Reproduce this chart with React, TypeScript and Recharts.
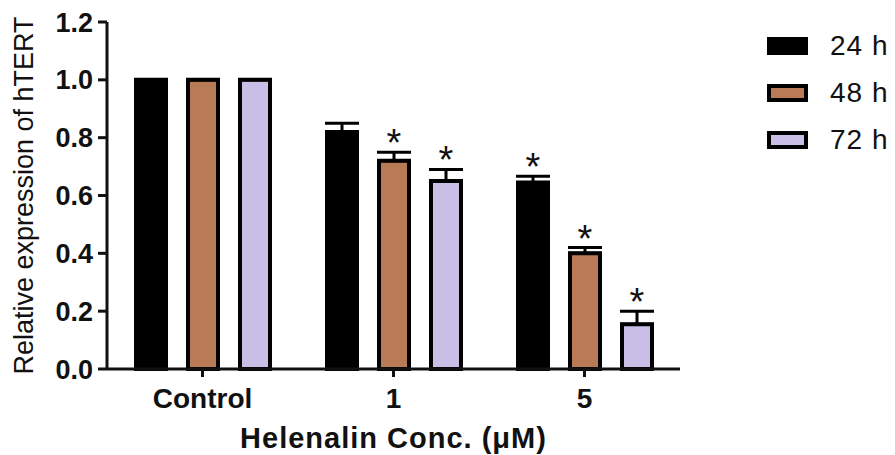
import { Bar, BarChart, ErrorBar, LabelList, XAxis, YAxis } from "recharts";

const categories = ["Control", "1", "5"];
const h24 = [1.0, 0.82, 0.645];
const h48 = [1.0, 0.72, 0.4];
const h72 = [1.0, 0.65, 0.155];
const err24 = [0, 0.03, 0.022];
const err48 = [0, 0.03, 0.02];
const err72 = [0, 0.04, 0.045];
const sig24 = [false, false, true];
const sig48 = [false, true, true];
const sig72 = [false, true, true];
const yTicks = [0, 0.2, 0.4, 0.6, 0.8, 1.0, 1.2];

const FONT = '"Liberation Sans", Arial, sans-serif';

const series = [
  { key: "h24", name: "24 h", fill: "#000000", err: err24, sig: sig24 },
  { key: "h48", name: "48 h", fill: "#B97A56", err: err48, sig: sig48 },
  { key: "h72", name: "72 h", fill: "#C8BEE6", err: err72, sig: sig72 },
];

const data = categories.map((c, i) => ({
  cat: c,
  h24: h24[i],
  h48: h48[i],
  h72: h72[i],
  e24: err24[i],
  e48: err48[i],
  e72: err72[i],
}));

// asterisk sits just above the error cap
function star(err: number[], sig: boolean[]) {
  return (props: any) => {
    const vb = props.viewBox ?? props;
    const x = vb.x ?? props.x;
    const y = vb.y ?? props.y;
    const w = vb.width ?? props.width;
    const h = vb.height ?? props.height;
    const i = props.index;
    const v = Number(props.value);
    if (!sig[i] || !v) return null;
    const capY = y - (err[i] * h) / v;
    return (
      <text
        x={x + w / 2}
        y={capY + 4}
        textAnchor="middle"
        fontFamily={FONT}
        fontSize={38}
        fill="#111"
      >
        *
      </text>
    );
  };
}

function YLabel(props: any) {
  const vb = props.viewBox;
  const cx = 33;
  const cy = vb.y + vb.height / 2;
  return (
    <text
      x={cx}
      y={cy}
      transform={`rotate(-90, ${cx}, ${cy})`}
      textAnchor="middle"
      fontFamily={FONT}
      fontSize={27}
      fill="#111"
    >
      Relative expression of hTERT
    </text>
  );
}

function XLabel(props: any) {
  const vb = props.viewBox;
  return (
    <text
      x={vb.x + vb.width / 2}
      y={448}
      textAnchor="middle"
      fontFamily={FONT}
      fontSize={29}
      fontWeight="bold"
      letterSpacing={1}
      fill="#111"
    >
      Helenalin Conc. (μM)
    </text>
  );
}

export default function App() {
  return (
    <div style={{ position: "absolute", left: 0, top: 0, width: 895, height: 455, background: "#fff" }}>
      <BarChart
        width={895}
        height={455}
        data={data}
        margin={{ top: 22, right: 215, bottom: 0, left: 0 }}
        barSize={30}
        barGap={22}
      >
        <XAxis
          dataKey="cat"
          height={86}
          axisLine={{ stroke: "#111", strokeWidth: 3 }}
          tickLine={{ stroke: "#111", strokeWidth: 3 }}
          tickSize={8}
          tickMargin={11}
          tick={{ fill: "#111", fontSize: 28, fontWeight: "bold", fontFamily: FONT }}
          label={<XLabel />}
        />
        <YAxis
          width={107}
          domain={[0, 1.2]}
          ticks={yTicks}
          interval={0}
          tickFormatter={(v: number) => v.toFixed(1)}
          axisLine={{ stroke: "#111", strokeWidth: 3 }}
          tickLine={{ stroke: "#111", strokeWidth: 3 }}
          tickSize={9}
          tickMargin={5}
          tick={{ fill: "#111", fontSize: 27, fontWeight: "bold", fontFamily: FONT }}
          label={<YLabel />}
        />
        {series.map((s) => (
          <Bar
            key={s.key}
            dataKey={s.key}
            fill={s.fill}
            stroke="#000"
            strokeWidth={4}
            isAnimationActive={false}
          >
            <ErrorBar
              dataKey={(d: any) => [0, d["e" + s.key.slice(1)]]}
              width={17}
              stroke="#000"
              strokeWidth={3}
              direction="y"
            />
            <LabelList dataKey={s.key} content={star(s.err, s.sig)} />
          </Bar>
        ))}
      </BarChart>
      <div style={{ position: "absolute", left: 766, top: 22, fontFamily: FONT }}>
        {series.map((s) => (
          <div key={s.key} style={{ display: "flex", alignItems: "center", height: 47 }}>
            <svg width={44} height={22} style={{ marginRight: 20 }}>
              <rect x={3} y={4} width={37} height={14} fill={s.fill} stroke="#000" strokeWidth={4} />
            </svg>
            <span style={{ fontSize: 28, letterSpacing: 1, color: "#111" }}>{s.name}</span>
          </div>
        ))}
      </div>
    </div>
  );
}
